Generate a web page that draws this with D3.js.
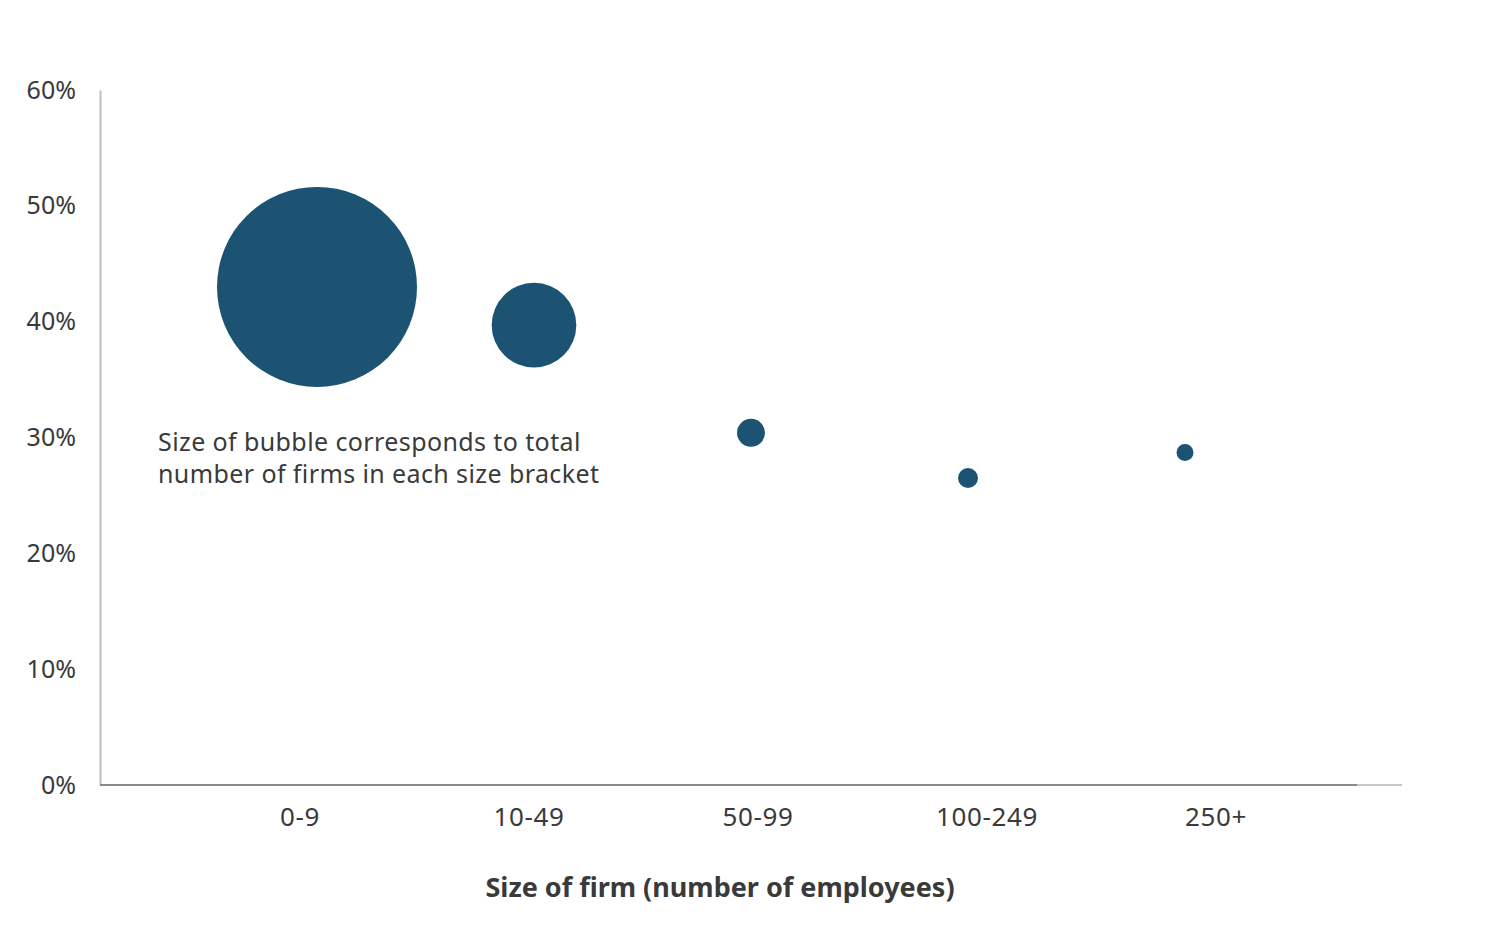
<!DOCTYPE html>
<html>
<head>
    <meta charset="utf-8">
    <title>Share by size of firm</title>
    <script src="https://d3js.org/d3.v7.min.js" charset="utf-8"></script>
    <style>
        html, body { margin: 0; padding: 0; background: #fff; }
        svg text { font-family: "Noto Sans", "Open Sans", sans-serif; fill: #3a3a3a; }
    </style>
</head>
<body>
    <div id="chart"></div>
    <script>
        // data
        const categories = ["0-9", "10-49", "50-99", "100-249", "250+"];
        const shareValues = [0.430, 0.397, 0.304, 0.265, 0.287];
        const firmCounts = [1000000, 179000, 19600, 10000, 7200];
        const yTicks = [0, 0.1, 0.2, 0.3, 0.4, 0.5, 0.6];

        const width = 1504;
        const height = 940;

        const svg = d3.select("#chart")
            .append("svg")
            .attr("width", width)
            .attr("height", height);

        // scales
        const xScale = d3.scaleLinear().domain([0, 6]).range([100, 1402]);
        const labelX = d3.scaleLinear().domain([1, 5]).range([300, 1216]);
        const yScale = d3.scaleLinear().domain([0, 0.6]).range([785, 90]);
        const rScale = d3.scaleSqrt().domain([0, d3.max(firmCounts)]).range([0, 100]);

        // y axis
        const yAxis = svg.append("g")
            .attr("transform", "translate(100,0)")
            .call(d3.axisLeft(yScale).tickValues(yTicks).tickFormat(d3.format(".0%")).tickSize(0).tickPadding(24));
        yAxis.select(".domain").attr("stroke", "#bdbdbd").attr("stroke-width", 2);
        yAxis.selectAll("text").style("font-size", "25px").attr("fill", "#3a3a3a");

        // x axis baseline (light extension + darker part)
        svg.append("line")
            .attr("x1", xScale(0)).attr("x2", xScale(6))
            .attr("y1", yScale(0)).attr("y2", yScale(0))
            .attr("stroke", "#b5b5b5").attr("stroke-width", 1.5);
        svg.append("line")
            .attr("x1", xScale(0)).attr("x2", 1357)
            .attr("y1", yScale(0)).attr("y2", yScale(0))
            .attr("stroke", "#8a8a8a").attr("stroke-width", 2);

        // category labels
        svg.selectAll(".cat-label")
            .data(categories)
            .enter()
            .append("text")
            .attr("class", "cat-label")
            .attr("x", (d, i) => labelX(i + 1))
            .attr("y", 826)
            .attr("text-anchor", "middle")
            .style("font-size", "26px")
            .style("letter-spacing", "0.6px")
            .text(d => d);

        // bubbles
        svg.selectAll(".bubble")
            .data(categories)
            .enter()
            .append("circle")
            .attr("class", "bubble")
            .attr("cx", (d, i) => xScale(i + 1))
            .attr("cy", (d, i) => yScale(shareValues[i]))
            .attr("r", (d, i) => rScale(firmCounts[i]))
            .attr("fill", "#1c5373");

        // note
        const note = svg.append("text")
            .attr("x", 158)
            .attr("y", 451)
            .style("font-size", "25px")
            .style("letter-spacing", "0.4px");
        note.append("tspan").attr("x", 158).text("Size of bubble corresponds to total");
        note.append("tspan").attr("x", 158).attr("dy", 32).text("number of firms in each size bracket");

        // x axis title
        svg.append("text")
            .attr("x", 720)
            .attr("y", 897)
            .attr("text-anchor", "middle")
            .style("font-size", "27px")
            .style("font-weight", "bold")
            .text("Size of firm (number of employees)");
    </script>
</body>
</html>
